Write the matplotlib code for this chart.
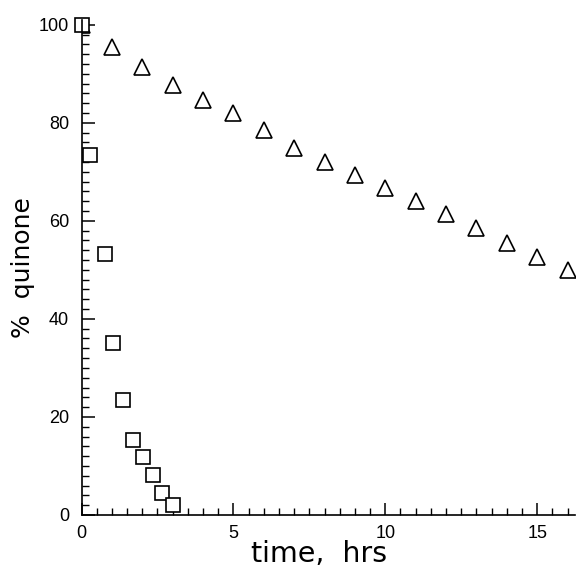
import matplotlib.pyplot as plt
from matplotlib.ticker import MultipleLocator

tri_time = [0, 1, 2, 3, 4, 5, 6, 7, 8, 9, 10, 11, 12, 13, 14, 15, 16]
tri_quinone = [100, 95.5, 91.4, 87.8, 84.7, 82.0, 78.6, 74.9, 72.0, 69.4,
               66.7, 64.1, 61.4, 58.6, 55.5, 52.7, 50.0]

sq_time = [0, 0.28, 0.77, 1.03, 1.37, 1.70, 2.03, 2.36, 2.66, 3.0]
sq_quinone = [100, 73.5, 53.3, 35.0, 23.5, 15.3, 11.8, 8.2, 4.5, 2.0]

plt.rcParams['font.family'] = ['Liberation Sans', 'DejaVu Sans']

fig = plt.figure(figsize=(5.76, 5.69), dpi=100)
ax = fig.add_axes([0.1415, 0.095, 0.857, 0.87])

ax.plot(tri_time, tri_quinone, linestyle='none', marker='^', markersize=11,
        markerfacecolor='white', markeredgecolor='black', markeredgewidth=1.2)
ax.plot(sq_time, sq_quinone, linestyle='none', marker='s', markersize=9.5,
        markerfacecolor='white', markeredgecolor='black', markeredgewidth=1.2,
        clip_on=False)

ax.set_xlim(0, 16.25)
ax.set_ylim(0, 101)
ax.xaxis.set_major_locator(MultipleLocator(5))
ax.xaxis.set_minor_locator(MultipleLocator(0.5))
ax.yaxis.set_major_locator(MultipleLocator(20))
ax.yaxis.set_minor_locator(MultipleLocator(2))

for s in ['top', 'right']:
    ax.spines[s].set_visible(False)
for s in ['left', 'bottom']:
    ax.spines[s].set_linewidth(1.2)

ax.tick_params(which='major', direction='in', length=9, width=1.1,
               labelsize=13)
ax.tick_params(axis='y', which='major', pad=9)
ax.tick_params(axis='x', which='major', pad=7)
ax.tick_params(which='minor', direction='in', length=5, width=1.0)

ax.set_xlabel('time,  hrs', fontsize=20.5, family='DejaVu Sans')
ax.xaxis.set_label_coords(0.481, -0.05)
ax.set_ylabel('%  quinone', fontsize=18, family='DejaVu Sans')
ax.yaxis.set_label_coords(-0.094, 0.5)

fig.savefig('out.png', dpi=100)
